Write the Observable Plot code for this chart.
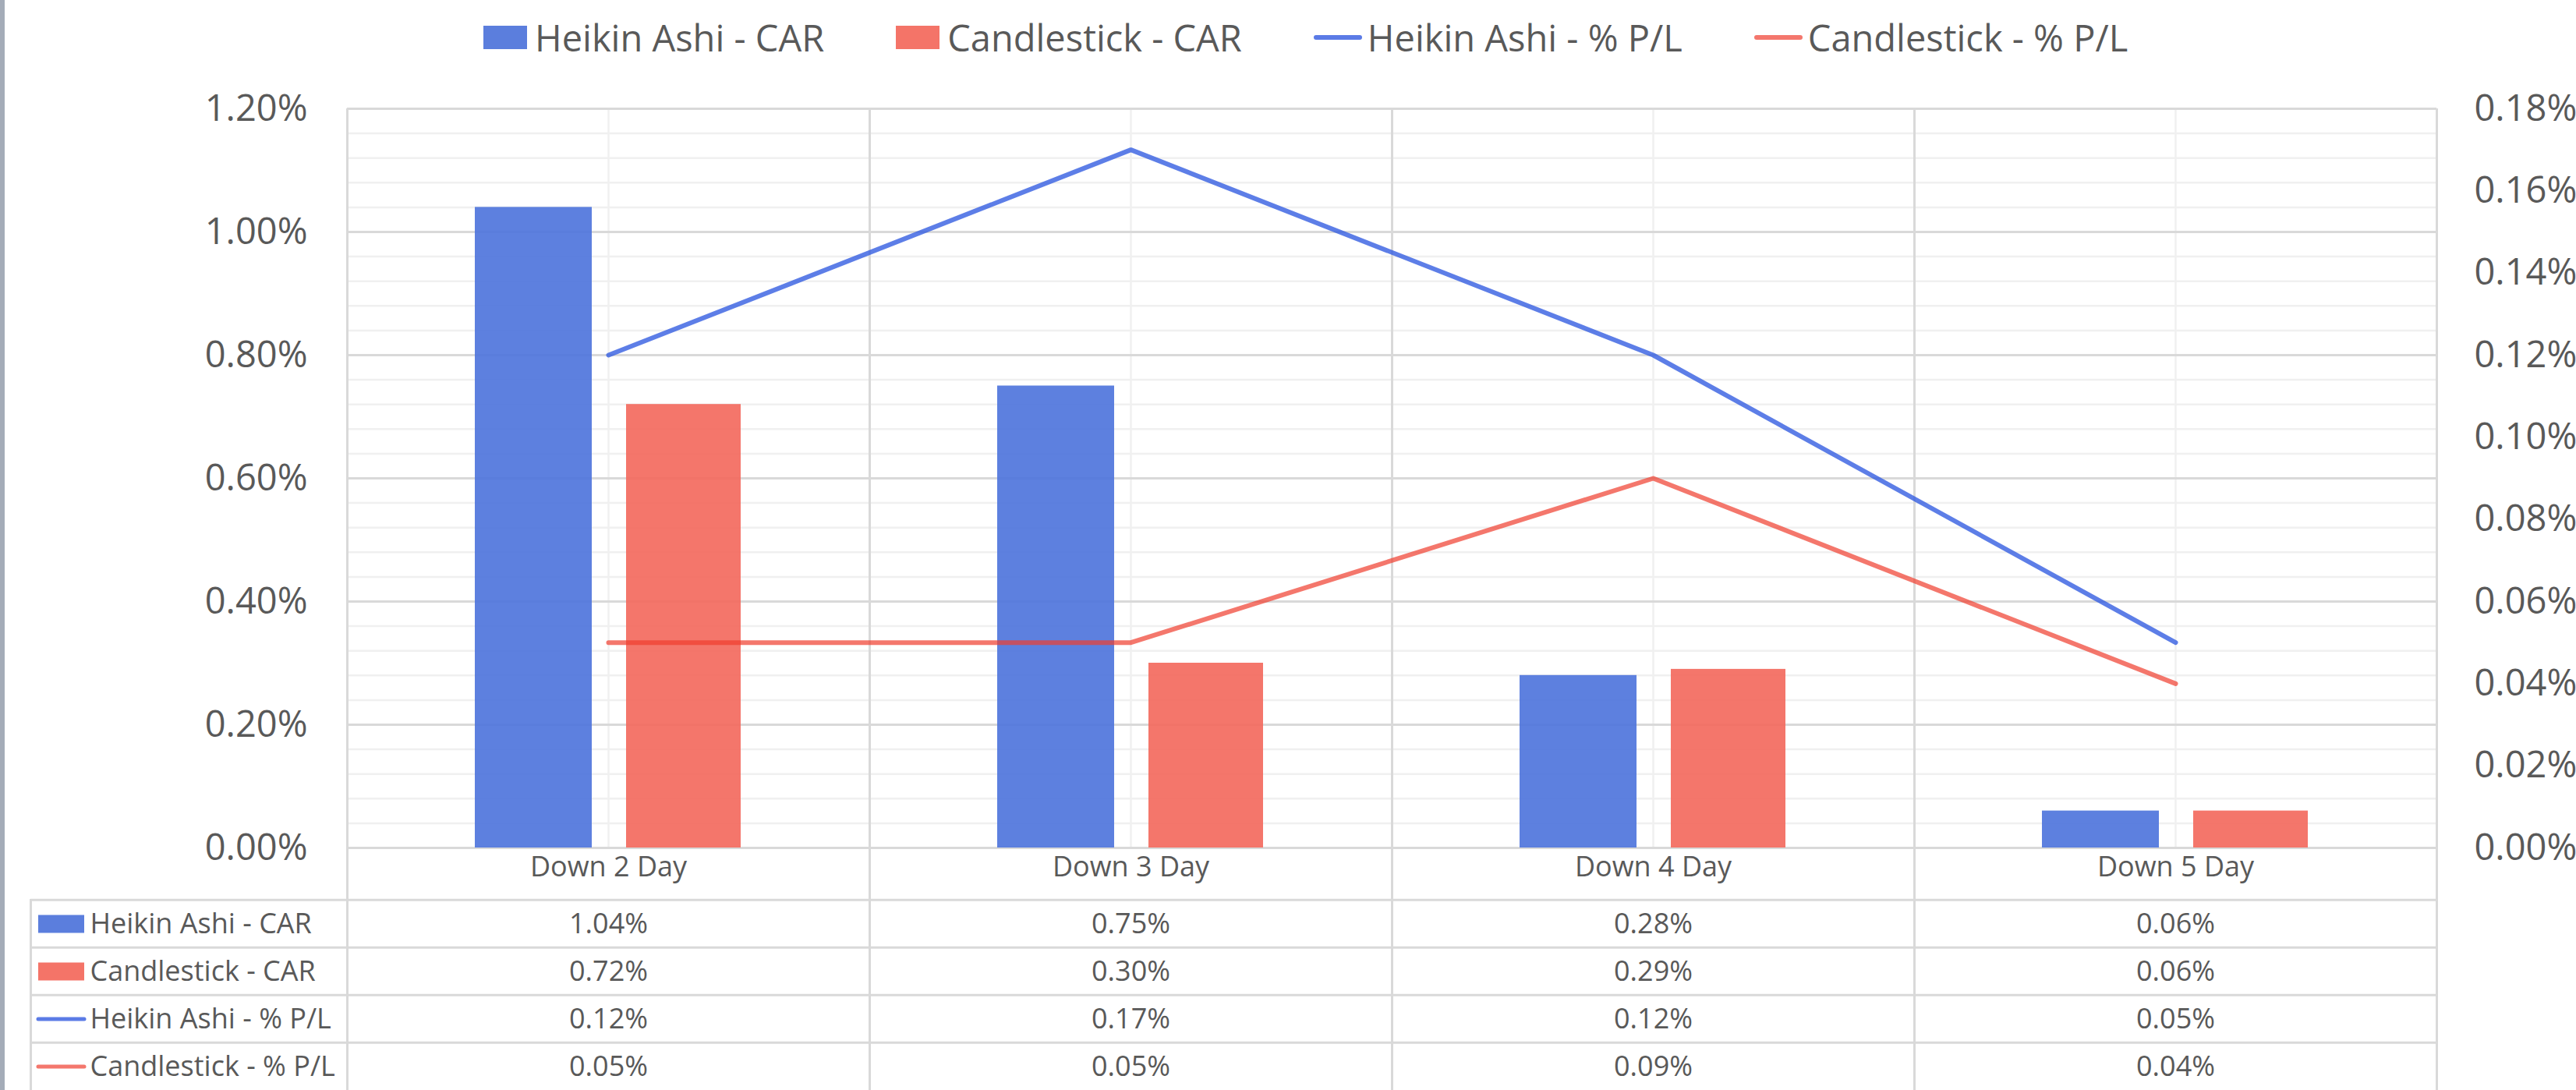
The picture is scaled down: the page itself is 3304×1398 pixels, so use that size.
<!DOCTYPE html>
<html>
<head>
<meta charset="utf-8">
<script src="https://cdn.jsdelivr.net/npm/d3@7"></script>
<script src="https://cdn.jsdelivr.net/npm/@observablehq/plot@0.6"></script>
<style>
  html, body { margin: 0; padding: 0; background: #fff; }
  #root { position: relative; width: 3304px; height: 1398px; overflow: hidden; font-family: "Open Sans", sans-serif; color: #595959; }
  #border { position: absolute; left: 0; top: 0; width: 6px; height: 1398px; background: #a4acb8; }
  #legend { position: absolute; left: 620px; top: 20px; height: 56px; display: flex; align-items: center; font-size: 47px; white-space: nowrap; }
  .item { display: flex; align-items: center; margin-right: 92px; }
  .sw-rect { width: 56px; height: 30px; margin-right: 10px; }
  .sw-line { width: 62px; height: 6px; border-radius: 3px; margin-right: 7px; }
  #chart { position: absolute; left: 0; top: 0; }
  #table { position: absolute; left: 0; top: 1153px; }
</style>
</head>
<body>
<div id="root">
  <div id="border"></div>
  <div id="chart"></div>
  <div id="table"></div>
  <div id="legend"></div>
</div>
<script>
// ---- data ----
const categories = ["Down 2 Day", "Down 3 Day", "Down 4 Day", "Down 5 Day"];
const seriesNames = ["Heikin Ashi - CAR", "Candlestick - CAR", "Heikin Ashi - % P/L", "Candlestick - % P/L"];
const haCAR = [1.04, 0.75, 0.28, 0.06];   // %
const csCAR = [0.72, 0.30, 0.29, 0.06];   // %
const haPL  = [0.12, 0.17, 0.12, 0.05];   // % (right axis)
const csPL  = [0.05, 0.05, 0.09, 0.04];   // % (right axis)
const leftTicks  = [0, 0.2, 0.4, 0.6, 0.8, 1.0, 1.2];
const leftMinor  = [0.04, 0.08, 0.12, 0.16, 0.24, 0.28, 0.32, 0.36, 0.44, 0.48, 0.52, 0.56, 0.64, 0.68, 0.72, 0.76, 0.84, 0.88, 0.92, 0.96, 1.04, 1.08, 1.12, 1.16];
const rightTicks = [0, 0.02, 0.04, 0.06, 0.08, 0.10, 0.12, 0.14, 0.16, 0.18];
const seriesValues = [haCAR, csCAR, haPL, csPL];

// ---- styling ----
const barColors = ["#4f75dc", "#f36a5e"];
const lineColors = ["#2f5ae0", "#ef3d2e"];
const lineOpacity = [0.78, 0.7];
const swatchBar = ["#5b7edd", "#f47468"];
const swatchLine = ["#5b7be6", "#f4776d"];
const textColor = "#595959";
const major = "#d9d9d9", minor = "#f0f0f0";
const fmt = d => d.toFixed(2) + "%";

const W = 3304, ML = 445, MR = 179, MT = 139, MB = 66, H = 1153;
const bw = (W - ML - MR) / categories.length;
const k = leftTicks[leftTicks.length - 1] / rightTicks[rightTicks.length - 1];
const font = {fontFamily: "'Open Sans', sans-serif", background: "transparent", overflow: "visible"};

const chart = Plot.plot({
  width: W, height: H,
  marginLeft: ML, marginRight: MR, marginTop: MT, marginBottom: MB,
  x: {type: "band", domain: categories, padding: 0, axis: null},
  y: {domain: [0, leftTicks[leftTicks.length - 1]], axis: null},
  style: font,
  marks: [
    Plot.ruleY(leftMinor, {stroke: minor, strokeWidth: 2.5}),
    Plot.ruleX(categories, {x: d => d, stroke: minor, strokeWidth: 2.5}),
    Plot.ruleY(leftTicks, {stroke: major, strokeWidth: 3}),
    Plot.ruleX(categories, {x: d => d, dx: -bw / 2, stroke: major, strokeWidth: 3, insetBottom: -MB}),
    Plot.ruleX([categories[categories.length - 1]], {x: d => d, dx: bw / 2, stroke: major, strokeWidth: 3, insetBottom: -MB}),
    Plot.barY(categories, {x: d => d, y: (d, i) => haCAR[i], fill: barColors[0], fillOpacity: 0.92, insetLeft: 164, insetRight: 356}),
    Plot.barY(categories, {x: d => d, y: (d, i) => csCAR[i], fill: barColors[1], fillOpacity: 0.92, insetLeft: 358, insetRight: 165}),
    Plot.line(categories, {x: d => d, y: (d, i) => haPL[i] * k, stroke: lineColors[0], strokeOpacity: lineOpacity[0], strokeWidth: 6, strokeLinecap: "round"}),
    Plot.line(categories, {x: d => d, y: (d, i) => csPL[i] * k, stroke: lineColors[1], strokeOpacity: lineOpacity[1], strokeWidth: 6, strokeLinecap: "round"}),
    Plot.text(leftTicks, {y: d => d, frameAnchor: "left", dx: -51, textAnchor: "end", text: fmt, fontSize: 47, fill: textColor}),
    Plot.text(rightTicks, {y: d => d * k, frameAnchor: "right", dx: 48, textAnchor: "start", text: fmt, fontSize: 47, fill: textColor}),
    Plot.text(categories, {x: d => d, frameAnchor: "bottom", dy: 36, text: d => d, fontSize: 36, fill: textColor})
  ]
});
document.getElementById("chart").appendChild(chart);

// ---- data table ----
const TH = 246;
const rowH = TH / seriesNames.length;
const cells = seriesNames.flatMap((s, j) => categories.map((c, i) => ({s, c, v: seriesValues[j][i]})));
const tableLeft = 39;
const table = Plot.plot({
  width: W, height: TH,
  marginLeft: ML, marginRight: MR, marginTop: 0, marginBottom: 0,
  x: {type: "band", domain: categories, padding: 0, axis: null},
  y: {type: "band", domain: seriesNames, padding: 0, axis: null},
  style: font,
  marks: [
    Plot.ruleY(seriesNames, {y: d => d, dy: -rowH / 2, insetLeft: -(ML - tableLeft), stroke: major, strokeWidth: 3}),
    Plot.ruleX(categories, {x: d => d, dx: -bw / 2, stroke: major, strokeWidth: 3}),
    Plot.ruleX([categories[categories.length - 1]], {x: d => d, dx: bw / 2, stroke: major, strokeWidth: 3}),
    Plot.ruleX([categories[0]], {x: d => d, dx: -bw / 2 - (ML - tableLeft), stroke: major, strokeWidth: 3}),
    Plot.text(cells, {x: "c", y: "s", text: d => fmt(d.v), fontSize: 36, fill: textColor}),
    Plot.text(seriesNames, {y: d => d, frameAnchor: "left", dx: 115 - ML, textAnchor: "start", text: d => d, fontSize: 36, fill: textColor}),
    Plot.ruleY([seriesNames[0]], {y: d => d, insetLeft: 49 - ML, insetRight: (W - MR) - 108, stroke: swatchBar[0], strokeWidth: 23}),
    Plot.ruleY([seriesNames[1]], {y: d => d, insetLeft: 49 - ML, insetRight: (W - MR) - 108, stroke: swatchBar[1], strokeWidth: 23}),
    Plot.ruleY([seriesNames[2]], {y: d => d, insetLeft: 49 - ML, insetRight: (W - MR) - 108, stroke: swatchLine[0], strokeWidth: 5, strokeLinecap: "round"}),
    Plot.ruleY([seriesNames[3]], {y: d => d, insetLeft: 49 - ML, insetRight: (W - MR) - 108, stroke: swatchLine[1], strokeWidth: 5, strokeLinecap: "round"})
  ]
});
document.getElementById("table").appendChild(table);

// ---- legend ----
const legend = document.getElementById("legend");
seriesNames.forEach((name, i) => {
  const item = document.createElement("div");
  item.className = "item";
  const sw = document.createElement("span");
  if (i < 2) { sw.className = "sw-rect"; sw.style.background = swatchBar[i]; }
  else { sw.className = "sw-line"; sw.style.background = swatchLine[i - 2]; }
  const label = document.createElement("span");
  label.textContent = name;
  item.appendChild(sw);
  item.appendChild(label);
  legend.appendChild(item);
});
</script>
</body>
</html>
